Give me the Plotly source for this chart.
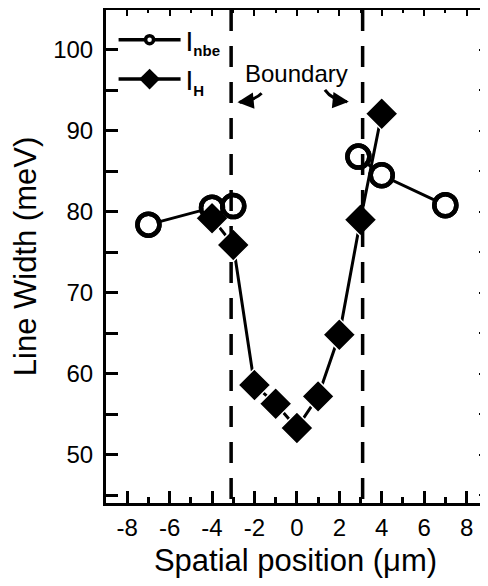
import plotly.graph_objects as go

# Data (None = no line between the two groups)
x_nbe = [-7, -4, -3, None, 2.9, 4, 7]
y_nbe = [78.4, 80.5, 80.7, None, 86.8, 84.5, 80.8]
x_h = [-4, -3, -2, -1, 0, 1, 2, 3, 4]
y_h = [79.2, 75.9, 58.6, 56.3, 53.3, 57.2, 64.8, 79.0, 92.1]
boundary_x = [-3.1, 3.1]
x_ticks = [-8, -6, -4, -2, 0, 2, 4, 6, 8]
y_ticks = [50, 60, 70, 80, 90, 100]

FONT = "Arial, Liberation Sans, sans-serif"
XR = [-9.0, 8.87]
YR = [44.04, 104.9]

fig = go.Figure()

# I_nbe: white-filled circles with line (under)
fig.add_trace(go.Scatter(
    x=x_nbe, y=y_nbe, mode="lines+markers", showlegend=False,
    connectgaps=False,
    line=dict(color="black", width=3),
    marker=dict(symbol="circle", size=22, color="white",
                line=dict(color="black", width=4.5)),
))
# I_H diamonds
fig.add_trace(go.Scatter(
    x=x_h, y=y_h, mode="lines+markers", showlegend=False,
    line=dict(color="black", width=3),
    marker=dict(symbol="diamond", size=25, color="black",
                line=dict(color="white", width=1.5)),
))
# circle outlines on top
fig.add_trace(go.Scatter(
    x=x_nbe, y=y_nbe, mode="markers", showlegend=False,
    marker=dict(symbol="circle-open", size=22, color="black",
                line=dict(color="black", width=4.5)),
))
# legend entries
fig.add_trace(go.Scatter(
    x=[None], y=[None], mode="lines+markers",
    name="I<sub><span style='font-size:15px;font-weight:bold'>nbe</span></sub>",
    line=dict(color="black", width=3.5),
    marker=dict(symbol="circle", size=8, color="white",
                line=dict(color="black", width=3.5)),
))
fig.add_trace(go.Scatter(
    x=[None], y=[None], mode="lines+markers",
    name="I<sub><span style='font-size:15px;font-weight:bold'>H</span></sub>",
    line=dict(color="black", width=3.5),
    marker=dict(symbol="diamond", size=16, color="black",
                line=dict(color="black", width=0)),
))
# dummy trace for mirrored axes
fig.add_trace(go.Scatter(x=[None], y=[None], xaxis="x2", yaxis="y2",
                         showlegend=False, hoverinfo="skip"))

shapes = []
for bx in boundary_x:
    shapes.append(dict(type="line", xref="x", yref="paper", x0=bx, x1=bx,
                       y0=1, y1=0, line=dict(color="black", width=3.5,
                                             dash="21px,15px")))
# curved arrows
shapes.append(dict(type="path", xref="x", yref="y",
                   path="M -1.663,94.62 Q -1.979,93.76 -2.70,93.52",
                   line=dict(color="black", width=3)))
shapes.append(dict(type="path", xref="x", yref="y",
                   path="M 1.321,95.03 Q 1.651,93.79 2.36,93.58",
                   line=dict(color="black", width=3)))

annotations = [
    dict(x=0, y=97.1, xref="x", yref="y", text="Boundary", showarrow=False,
         font=dict(family=FONT, size=24, color="black")),
    dict(x=-2.80, y=93.52, xref="x", yref="y", text="", showarrow=True,
         ax=10, ay=-1, arrowhead=2, arrowsize=1.3, arrowwidth=2.5,
         arrowcolor="black"),
    dict(x=2.45, y=93.58, xref="x", yref="y", text="", showarrow=True,
         ax=-10, ay=-1, arrowhead=2, arrowsize=1.3, arrowwidth=2.5,
         arrowcolor="black"),
]

# page body has an 8px default margin, so the figure is 8px smaller
fig.update_layout(
    width=480, height=578,
    margin=dict(l=98, r=3, t=2, b=83),
    paper_bgcolor="white", plot_bgcolor="white",
    font=dict(family=FONT, color="black", size=24),
    shapes=shapes, annotations=annotations,
    showlegend=True,
    legend=dict(x=0.02, y=0.99, xanchor="left", yanchor="top",
                bgcolor="rgba(0,0,0,0)", itemwidth=62,
                font=dict(family=FONT, size=28, color="black"),
                tracegroupgap=0),
    xaxis=dict(range=XR, showgrid=False, zeroline=False,
               tickmode="array", tickvals=x_ticks, ticktext=[str(v) for v in x_ticks],
               ticks="inside", ticklen=12, tickwidth=3, tickcolor="black",
               minor=dict(dtick=1, tick0=0, ticks="inside", ticklen=6,
                          tickwidth=3, tickcolor="black"),
               showline=True, linewidth=3, linecolor="black",
               tickfont=dict(size=24), ticklabelstandoff=1,
               title=dict(text="Spatial position (\u03bcm)",
                          font=dict(size=31), standoff=10)),
    yaxis=dict(range=YR, showgrid=False, zeroline=False,
               tickmode="array", tickvals=y_ticks, ticktext=[str(v) for v in y_ticks],
               ticks="inside", ticklen=12, tickwidth=3, tickcolor="black",
               minor=dict(dtick=5, tick0=0, ticks="inside", ticklen=12,
                          tickwidth=3, tickcolor="black"),
               showline=True, linewidth=3, linecolor="black",
               tickfont=dict(size=24), ticklabelstandoff=5,
               title=dict(text="Line Width (meV)",
                          font=dict(size=31), standoff=10)),
    xaxis2=dict(overlaying="x", matches="x", side="top", anchor="y2",
                showgrid=False, zeroline=False, showticklabels=False,
                tickmode="array", tickvals=x_ticks,
                ticks="inside", ticklen=6, tickwidth=2, tickcolor="black",
                minor=dict(dtick=1, tick0=0, ticks="inside", ticklen=3,
                           tickwidth=2, tickcolor="black"),
                showline=True, linewidth=3, linecolor="black"),
    yaxis2=dict(overlaying="y", matches="y", side="right", anchor="x2",
                showgrid=False, zeroline=False, showticklabels=False,
                tickmode="array", tickvals=y_ticks,
                ticks="inside", ticklen=6, tickwidth=2, tickcolor="black",
                minor=dict(dtick=5, tick0=0, ticks="inside", ticklen=6,
                           tickwidth=2, tickcolor="black"),
                showline=True, linewidth=3, linecolor="black"),
)

fig.write_html("out.html")
